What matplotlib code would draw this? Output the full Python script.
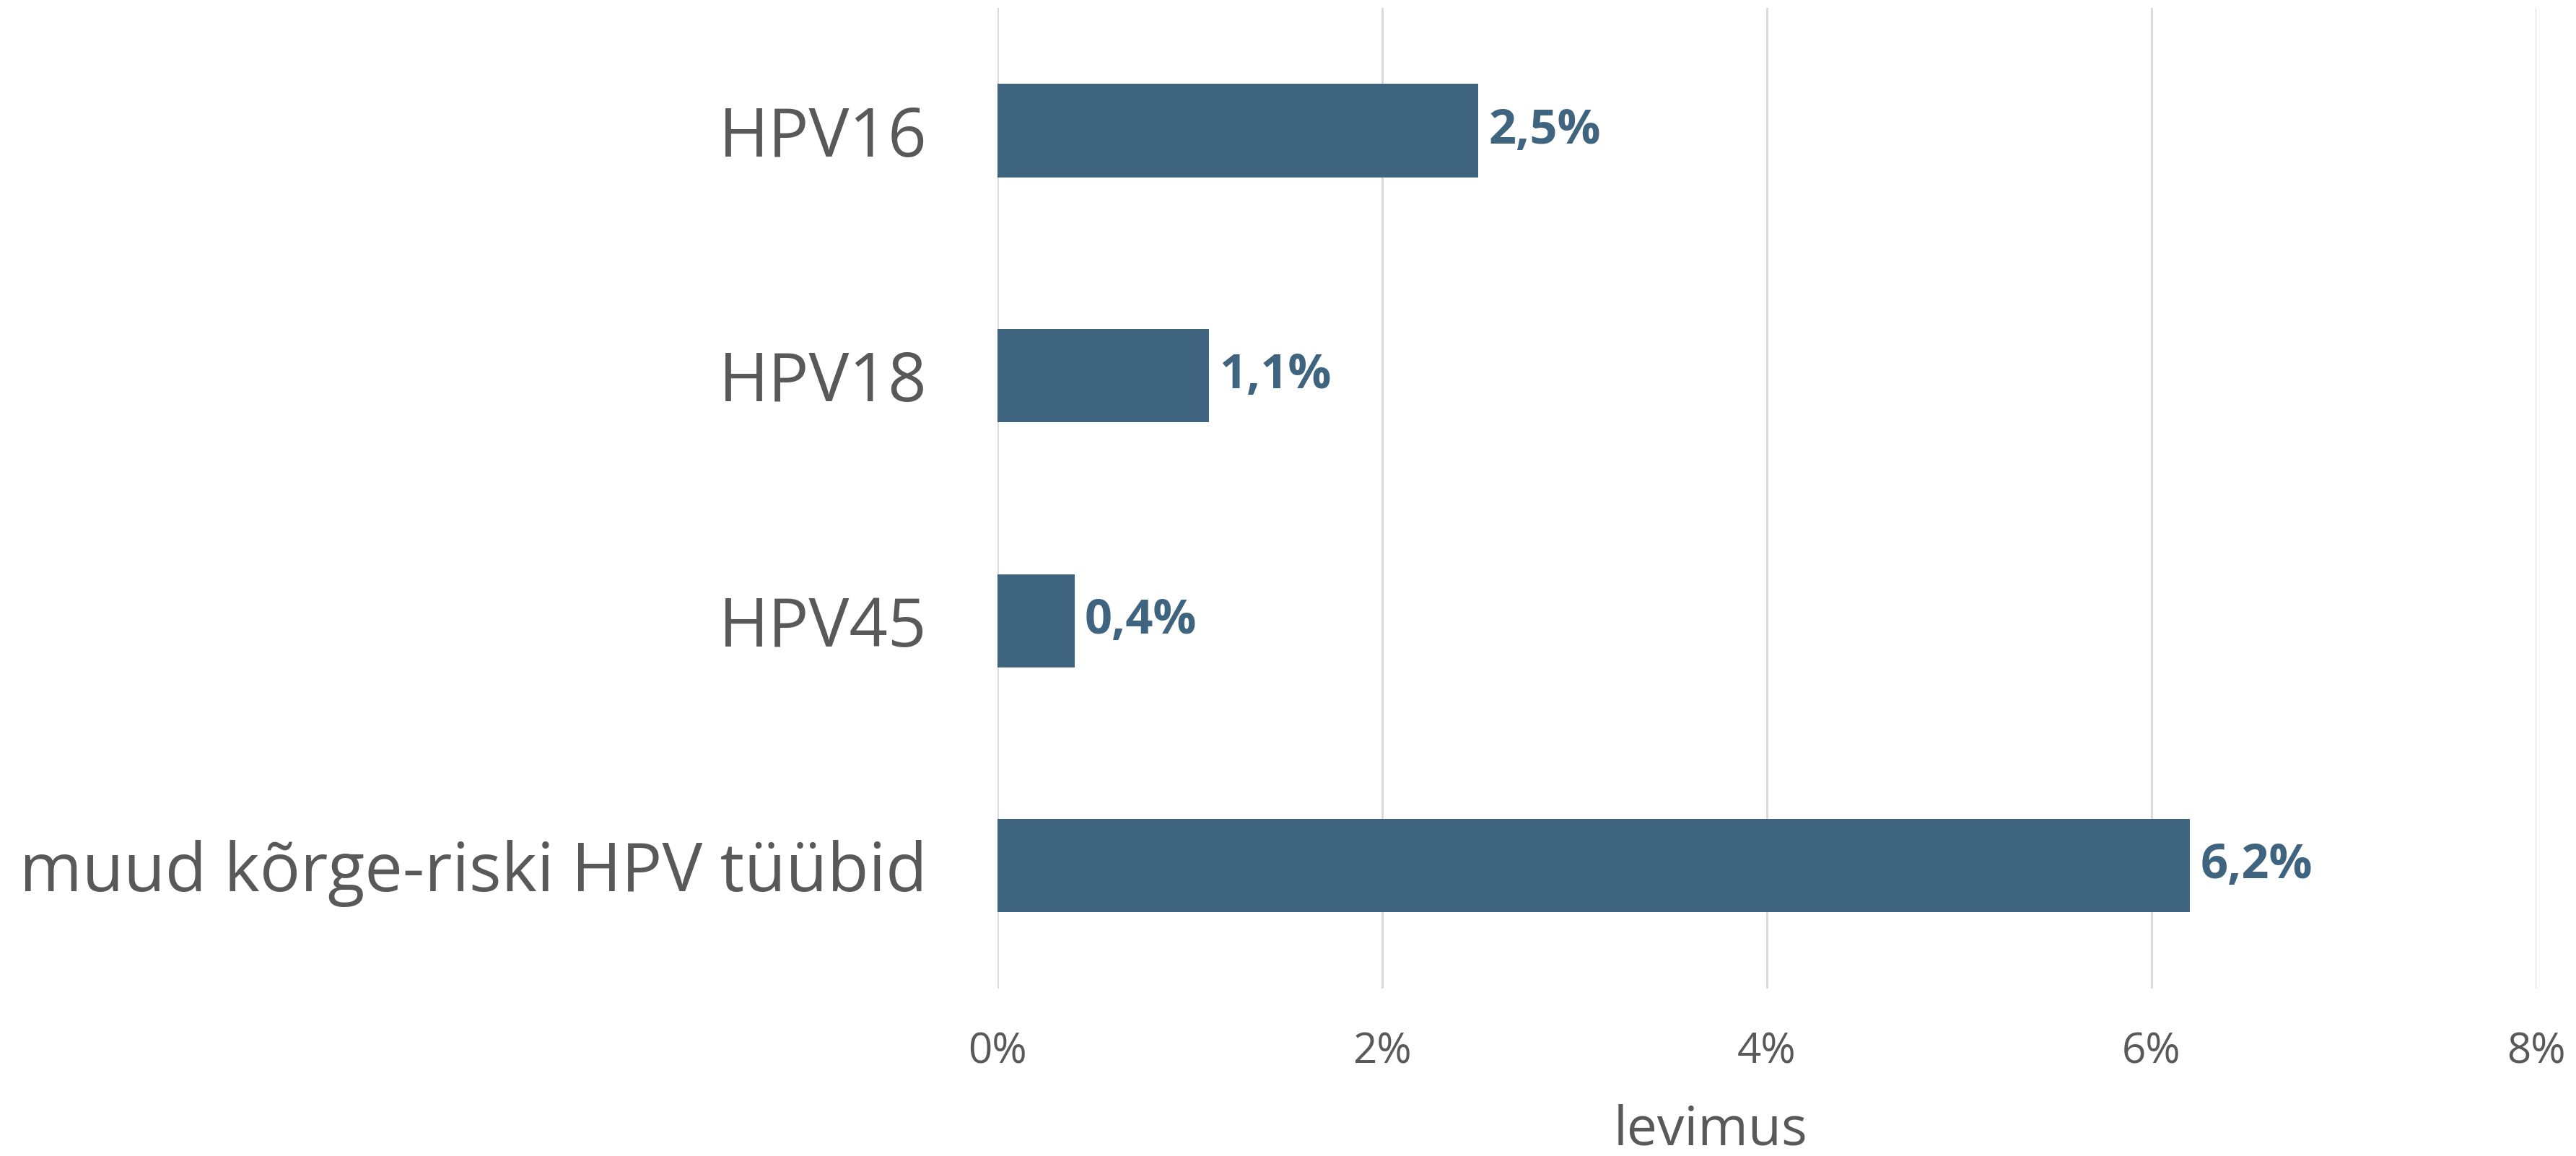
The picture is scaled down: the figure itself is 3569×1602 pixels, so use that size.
import matplotlib.pyplot as plt
from matplotlib.ticker import FuncFormatter

plt.rcParams['font.family'] = ['Open Sans', 'DejaVu Sans']

categories = ["HPV16", "HPV18", "HPV45", "muud kõrge-riski HPV tüübid"]
values = [2.5, 1.1, 0.4, 6.2]
value_labels = ["2,5%", "1,1%", "0,4%", "6,2%"]
xticks = [0, 2, 4, 6, 8]

bar_color = "#3E6480"
text_color = "#595959"

fig = plt.figure(figsize=(35.69, 16.02), dpi=100)
ax = fig.add_axes((0.3872, 0.145, 0.5974, 0.848))

ypos = list(range(len(categories)))
ax.barh(ypos, values, height=0.38, color=bar_color, zorder=3)

for y, v, lab in zip(ypos, values, value_labels):
    ax.annotate(lab, (v, y), xytext=(14, 0), textcoords="offset pixels",
                va="center", ha="left", fontsize=48, fontweight="bold",
                color=bar_color)

ax.set_ylim(len(categories) - 0.5, -0.5)
ax.set_xlim(0, 8)
ax.set_yticks(ypos)
ax.set_yticklabels(categories, fontsize=67.5, color=text_color)
ax.set_xticks(xticks)
ax.xaxis.set_major_formatter(FuncFormatter(lambda x, _: f"{x:.0f}%"))
ax.tick_params(axis="x", labelsize=42, labelcolor=text_color, length=0, pad=43)
ax.tick_params(axis="y", length=0, pad=70)

ax.grid(axis="x", color="#D9D9D9", linewidth=2, zorder=0)
for s in ax.spines.values():
    s.set_visible(False)

fig.text(0.664, 0.022, "levimus", fontsize=54, color=text_color,
         ha="center", va="center")

fig.savefig("out.png", dpi=100)
